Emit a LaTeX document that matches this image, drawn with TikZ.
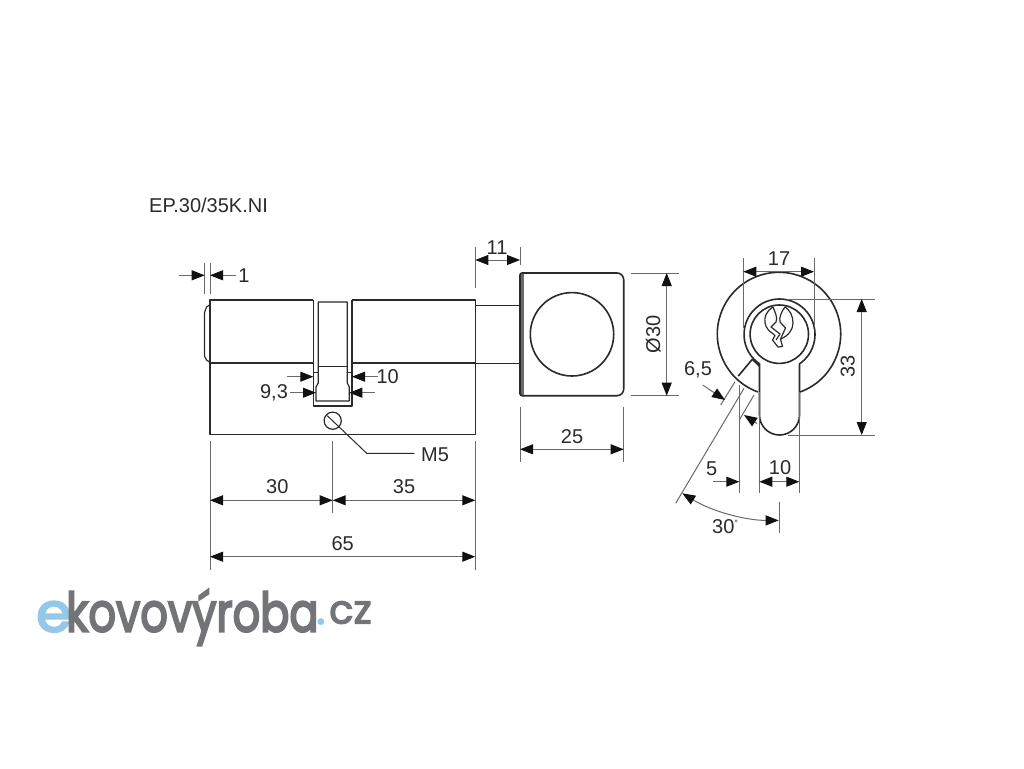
\documentclass[tikz,border=0pt]{standalone}
\usepackage{fontspec}
\usetikzlibrary{arrows.meta}
\setmainfont{Liberation Sans}
\newfontfamily\logofont{Poppins}[FakeBold=4]
\newfontfamily\logofontb{Poppins}[FakeBold=3]
\definecolor{inkc}{HTML}{2A2A2A}
\definecolor{dimc}{HTML}{6A6A6A}
\definecolor{tipc}{HTML}{111111}
\definecolor{logoblue}{HTML}{93C8E8}
\definecolor{logogrey}{HTML}{727477}
\tikzset{
  part/.style={draw=inkc,line width=1.6pt,line join=round},
  thinpart/.style={draw=inkc,line width=1.2pt,line join=round},
  ext/.style={draw=dimc,line width=1pt},
  dimone/.style={draw=dimc,line width=1pt,-{Triangle[length=13pt,width=10pt,color=tipc]}},
  dimtwo/.style={draw=dimc,line width=1pt,{Triangle[length=13pt,width=10pt,color=tipc]}-{Triangle[length=13pt,width=10pt,color=tipc]}},
  lab/.style={inner sep=0pt,anchor=center,text=inkc,font=\fontsize{20pt}{21pt}\selectfont},
  logotext/.style={inner sep=0pt,anchor=base west,font=\logofont\fontsize{54pt}{54pt}\selectfont}
}
\begin{document}
\begin{tikzpicture}[x=1pt,y=-1pt]
\useasboundingbox[fill=white] (0,0) rectangle (1024,768);
% title
\node[lab,anchor=west] (title) at (149,205) {EP.30/35K.NI};
% ---- cylinder body
\draw[part] (313.3,300) -- (210,300) -- (210,434.3) -- (475.3,434.3) -- (475.3,300) -- (352,300);
\draw[part] (210,362.7) -- (313.3,362.7) (352,362.7) -- (475.3,362.7);
\draw[thinpart] (209.5,305) -- (206.5,307) -- (204.4,313) -- (204.4,356) -- (206.5,360) -- (209.5,362);
% cam
\draw[part] (313.3,300) -- (313.3,405.7) -- (352,405.7) -- (352,300);
\draw[thinpart] (318.3,302) -- (318.3,383) -- (316,387) -- (316,401) -- (349.3,401) -- (349.3,387) -- (347.3,383) -- (347.3,302) -- cycle;
\draw[thinpart] (318.3,366.7) -- (347.3,366.7) (313.3,372.5) -- (318.3,372.5) (347.3,372.5) -- (352,372.5);
% screw
\draw[thinpart] (332.7,420.7) circle[radius=8.6];
\draw[ext,draw=inkc] (327.3,415.7) -- (366.7,453.3) -- (414.3,453.3);
\node[lab] (m5) at (435,454.5) {M5};
% ---- shaft and knob
\draw[part] (475.3,305.3) -- (520,305.3) (475.3,363.3) -- (520,363.3);
\fill[inkc!70] (520,274) rectangle (523.5,395);
\draw[part] (522,273) -- (617,273) arc[start angle=-90,end angle=0,radius=6.7] -- (623.7,389) arc[start angle=0,end angle=90,radius=6.7] -- (522,395.7) arc[start angle=90,end angle=180,radius=2] -- (520,275) arc[start angle=180,end angle=270,radius=2] -- cycle;
\draw[part] (572,334.3) circle[radius=41.7];
% ---- end view
\draw[part] (779,334) ++(70:61.7) arc[start angle=70,end angle=-250,radius=61.7];
\draw[part] (738.3,376) -- (752.3,359.3) -- (759.3,366);
\draw[part] (779.5,334.5) ++(55.7:35.5) arc[start angle=55.7,end angle=-235.7,radius=35.5] -- (759.5,415) arc[start angle=180,end angle=0,radius=20] -- cycle;
\draw[part] (779.3,334.2) circle[radius=29.2];
% keyway
\draw[thinpart] (773,307) .. controls (766,311) and (764,318) .. (765,323) .. controls (766,328) and (769,331) .. (772,333) -- (775,335.5) -- (772.5,340) -- (778,347) -- (782.5,346.5) -- (780.5,339) .. controls (788,336) and (793,330) .. (793,323) .. controls (793,316) and (790,310) .. (785,307);
\draw[thinpart] (773,307) .. controls (775,312) and (778,318) .. (776,322) -- (771,327) -- (780,334) -- (776,340);
\draw[thinpart] (785,307) .. controls (781,312) and (779,318) .. (780,322) -- (785.5,328) -- (780.5,339);
% ---- dimensions, side view
\draw[ext] (204.7,262.7) -- (204.7,294) (210,262.7) -- (210,294);
\draw[dimone] (178.7,275.3) -- (204.7,275.3);
\draw[dimone] (236,275.3) -- (210,275.3);
\node[lab] (d1) at (244,275.5) {1};
\draw[dimone] (287.3,376.7) -- (313.3,376.7);
\draw[dimone] (378,376.7) -- (352,376.7);
\node[lab] (d10a) at (387.7,376.5) {10};
\draw[dimone] (290,392.7) -- (316,392.7);
\draw[dimone] (375,392.7) -- (349.3,392.7);
\node[lab] (d93) at (274,393) {9,3};
\draw[ext] (210,440.7) -- (210,570) (475.3,440.7) -- (475.3,570) (332.7,440.7) -- (332.7,512.7);
\draw[dimtwo] (210,500.3) -- (332.7,500.3);
\draw[dimtwo] (332.7,500.3) -- (475.3,500.3);
\draw[dimtwo] (210,556.7) -- (475.3,556.7);
\node[lab] (d30) at (277.3,486.7) {30};
\node[lab] (d35) at (404,486.7) {35};
\node[lab] (d65) at (342.7,543.3) {65};
% ---- dimensions, knob
\draw[ext] (475.3,247.3) -- (475.3,288.3) (520,247.3) -- (520,265);
\draw[dimtwo] (475.3,260) -- (520,260);
\node[lab] (d11) at (497,247.5) {11};
\draw[ext] (630.7,273) -- (679.3,273) (630.7,395.7) -- (679.3,395.7);
\draw[dimtwo] (666.7,273) -- (666.7,395.7);
\node[lab,rotate=90] (dphi) at (653.3,334.3) {Ø30};
\draw[ext] (520,406.7) -- (520,462.3) (623.7,406.7) -- (623.7,462.3);
\draw[dimtwo] (520,449.3) -- (623.7,449.3);
\node[lab] (d25) at (572,436.7) {25};
% ---- dimensions, end view
\draw[ext] (743.3,258.3) -- (743.3,328) (814,258.3) -- (814,327);
\draw[dimtwo] (743.3,271.7) -- (814,271.7);
\node[lab] (d17) at (779,258.3) {17};
\draw[ext] (786.7,299) -- (875,299) (788,435) -- (875,435);
\draw[dimtwo] (861.7,299) -- (861.7,435);
\node[lab,rotate=90] (d33) at (847.7,366.7) {33};
\draw[ext] (739.3,385) -- (739.3,493.3) (759.3,392) -- (759.3,493.3) (799.3,392) -- (799.3,493.3);
\draw[dimone] (713.3,481.7) -- (739.3,481.7);
\draw[dimtwo] (759.3,481.7) -- (799.3,481.7);
\node[lab] (d5) at (711.7,468.3) {5};
\node[lab] (d10b) at (780,468) {10};
\draw[ext] (735,381.7) -- (720.7,405) (744,388.3) -- (675.7,503.3) (754,395) -- (739.3,420);
\draw[dimone] (702.7,385) -- (725,400);
\draw[dimone] (757,423.5) -- (744,415);
\node[lab] (d65b) at (698,369.3) {6,5};
\draw[ext] (779.3,502.3) -- (779.3,532.7);
\draw[dimtwo] (682.3,493.3) arc[start angle=121.4,end angle=90,radius=185];
\node[lab,anchor=west] (d30b) at (712,527) {30\raisebox{7pt}{\fontsize{9pt}{9pt}\selectfont °}};
% ---- logo
\node[logotext,text=logoblue,xscale=1.05] (loge) at (36,631.5) {e};
\node[logotext,text=logogrey,xscale=.8] (logok) at (66,631.5) {kovovýroba};
\node[logotext,text=logoblue,font=\logofontb\fontsize{44pt}{44pt}\selectfont] (logod) at (316,624) {.};
\node[logotext,text=logogrey,font=\logofontb\fontsize{40pt}{40pt}\selectfont] (logoc) at (329,623.5) {cz};
\end{tikzpicture}
\end{document}
